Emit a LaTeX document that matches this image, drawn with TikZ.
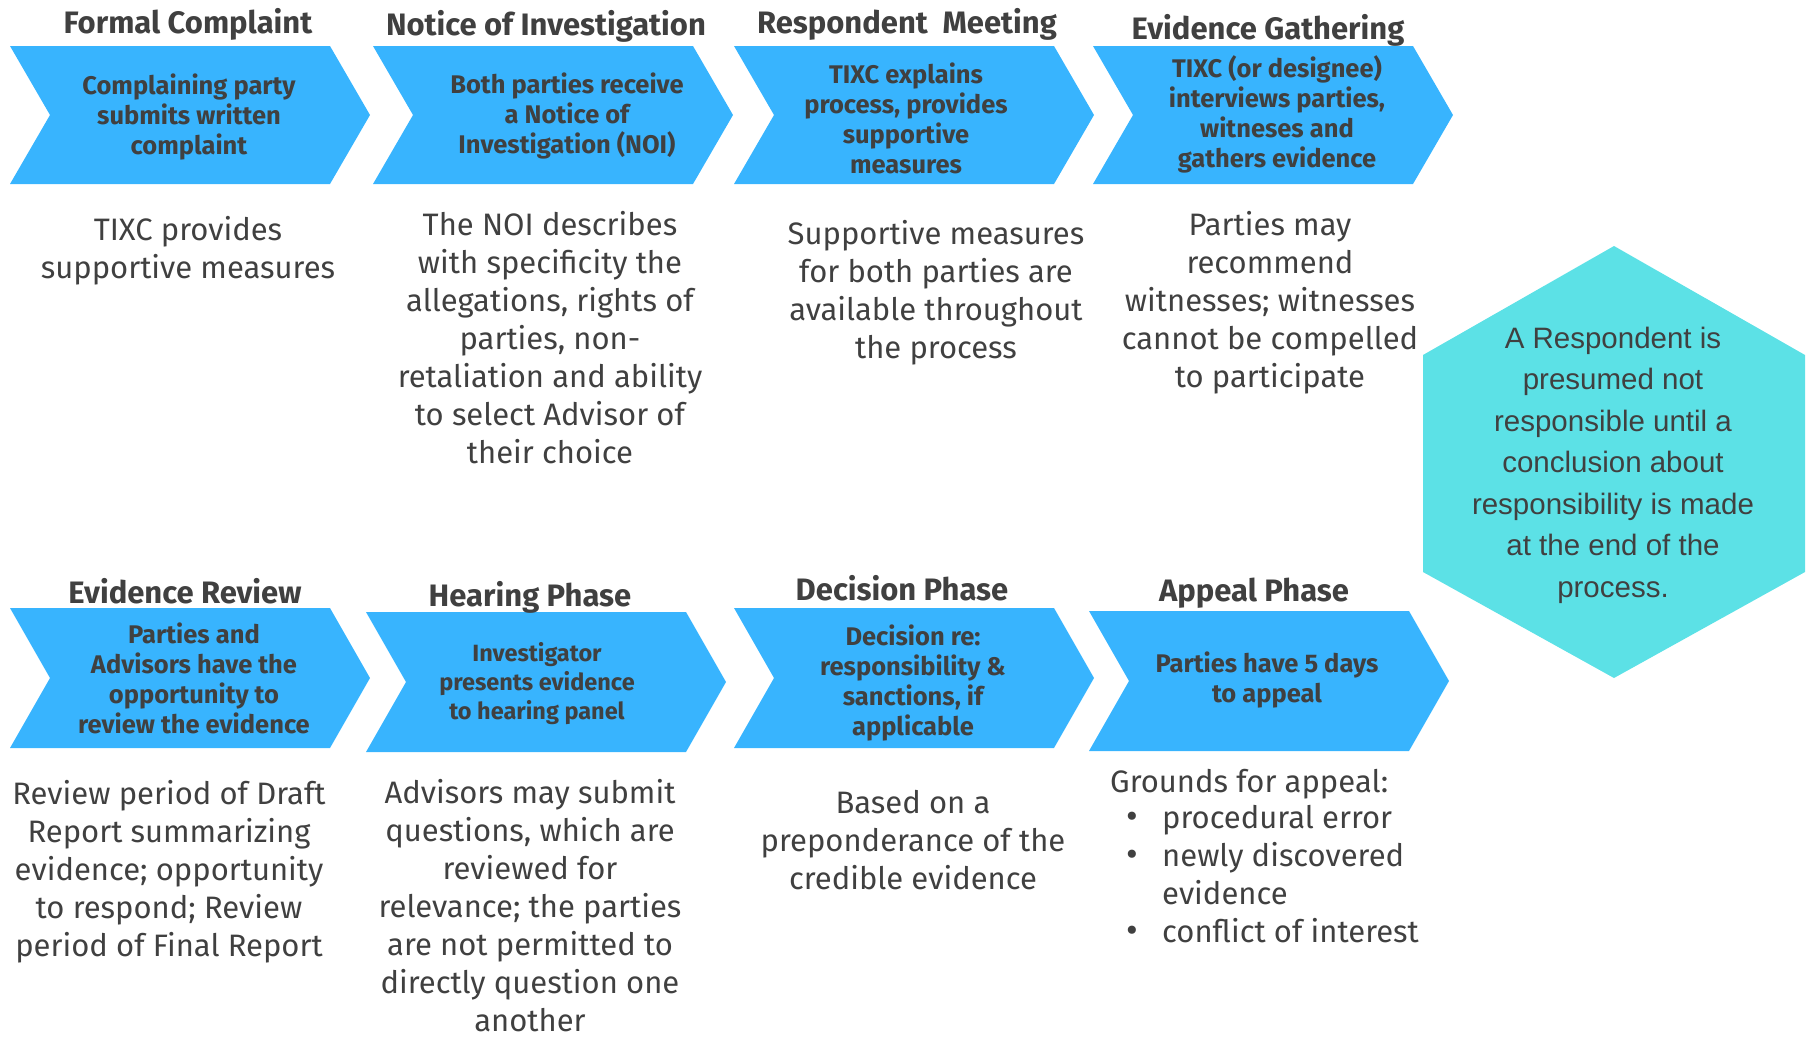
\documentclass[tikz,border=0pt]{standalone}
\usepackage{fontspec}
\setmainfont{Fira Sans}
\newfontfamily\hexfont{Liberation Sans}
\definecolor{chev}{HTML}{38B4FE}
\definecolor{hexc}{HTML}{5CE1E6}
\definecolor{txt}{HTML}{404040}
% multi-line nodes are anchored at the baseline of their LAST line
\tikzset{
  title/.style={anchor=base, inner sep=0pt, text=txt, font=\fontsize{31}{36}\selectfont\bfseries},
  inchev/.style={anchor=base, inner sep=0pt, align=center, text=txt, font=\fontsize{25.5}{30}\selectfont\bfseries},
  body/.style={anchor=base, inner sep=0pt, align=center, text=txt, font=\fontsize{31}{38}\selectfont},
  hextext/.style={anchor=base, inner sep=0pt, align=center, text=txt, font=\fontsize{29.5}{41.5}\selectfont\hexfont},
  bodyl/.style={anchor=base west, inner sep=0pt, align=left, text=txt, font=\fontsize{31}{38}\selectfont},
  bul/.style={anchor=base, inner sep=0pt, text=txt, font=\fontsize{36}{38}\selectfont},
}
\newcommand\chevshape[3]{%
  \fill[chev] (#1,#2) -- (#1+320,#2) -- (#1+360,{(#2+#3)/2}) -- (#1+320,#3) -- (#1,#3) -- (#1+40,{(#2+#3)/2}) -- cycle;}
\begin{document}
\begin{tikzpicture}[x=1pt,y=-1pt]
\useasboundingbox (0,0) rectangle (1808,1037);
% row 1 chevrons
\chevshape{10}{46}{184}
\chevshape{373}{46}{184}
\chevshape{734}{46}{184}
\chevshape{1093}{46}{184}
% row 2 chevrons
\chevshape{10}{608}{748}
\chevshape{366}{612}{752}
\chevshape{734}{608}{748}
\chevshape{1089}{611}{751}
% hexagon
\fill[hexc] (1614,246) -- (1805,355) -- (1805,572) -- (1614,678) -- (1423,572) -- (1423,355) -- cycle;

% titles
\node[title] (t1) at (188,33) {Formal Complaint};
\node[title] (t2) at (546,35) {Notice of Investigation};
\node[title] (t3) at (907,33) {Respondent\ \ Meeting};
\node[title] (t4) at (1268,39) {Evidence Gathering};
\node[title] (t5) at (185,603) {Evidence Review};
\node[title] (t6) at (530,606) {Hearing Phase};
\node[title] (t7) at (902,600) {Decision Phase};
\node[title] (t8) at (1254,601) {Appeal Phase};

% chevron texts
\node[inchev] (c1) at (189,154) {Complaining party\\submits written\\complaint};
\node[inchev] (c2) at (567,153) {Both parties receive\\a Notice of\\Investigation (NOI)};
\node[inchev] (c3) at (906,173) {TIXC explains\\process, provides\\supportive\\measures};
\node[inchev] (c4) at (1277,167) {TIXC (or designee)\\interviews parties,\\witneses and\\gathers evidence};
\node[inchev] (c5) at (194,733) {Parties and\\Advisors have the\\opportunity to\\review the evidence};
\node[inchev, font=\fontsize{23.5}{29}\selectfont\bfseries] (c6) at (537,719) {Investigator\\presents evidence\\to hearing panel};
\node[inchev] (c7) at (913,735) {Decision re:\\responsibility \&\\sanctions, if\\applicable};
\node[inchev] (c8) at (1267,702) {Parties have 5 days\\to appeal};

% body texts
\node[body] (b1) at (188,278) {TIXC provides\\supportive measures};
\node[body] (b2) at (550,463) {The NOI describes\\with specificity the\\allegations, rights of\\parties, non-\\retaliation and ability\\to select Advisor of\\their choice};
\node[body] (b3) at (936,358) {Supportive measures\\for both parties are\\available throughout\\the process};
\node[body] (b4) at (1270,387) {Parties may\\recommend\\witnesses; witnesses\\cannot be compelled\\to participate};
\node[hextext] (h) at (1613,597) {A Respondent is\\presumed not\\responsible until a\\conclusion about\\responsibility is made\\at the end of the\\process.};
\node[body] (b5) at (169,956) {Review period of Draft\\Report summarizing\\evidence; opportunity\\to respond; Review\\period of Final Report};
\node[body] (b6) at (530,1031) {Advisors may submit\\questions, which are\\reviewed for\\relevance; the parties\\are not permitted to\\directly question one\\another};
\node[body] (b7) at (913,889) {Based on a\\preponderance of the\\credible evidence};
\node[bodyl] (g0) at (1110,792) {Grounds for appeal:};
\node[bodyl] (g1) at (1162,828) {procedural error};
\node[bodyl] (g2) at (1162,904) {newly discovered\\evidence};
\node[bodyl] (g3) at (1162,942) {conflict of interest};
\node[bul] (d1) at (1132,828) {•};
\node[bul] (d2) at (1132,866) {•};
\node[bul] (d3) at (1132,942) {•};
\end{tikzpicture}
\end{document}
